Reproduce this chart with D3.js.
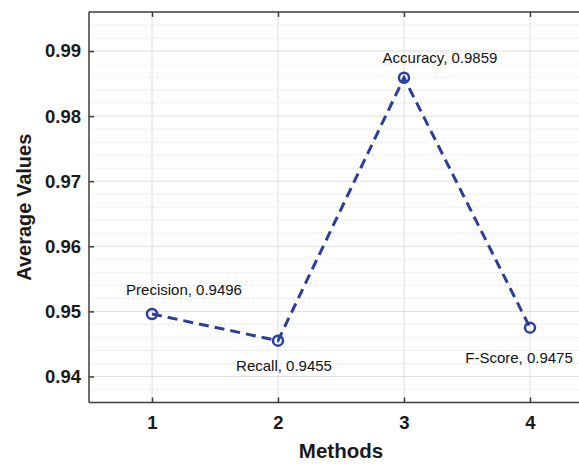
<!DOCTYPE html>
<html><head><meta charset="utf-8">
<script src="https://cdn.jsdelivr.net/npm/d3@7"></script>
<style>body{margin:0;background:#fff;} svg{display:block;font-family:Arial,"Liberation Sans",Helvetica,sans-serif;}</style>
</head><body>
<script>
const methods = [1, 2, 3, 4];
const names = ["Precision", "Recall", "Accuracy", "F-Score"];
const values = [0.9496, 0.9455, 0.9859, 0.9475];
const yTicks = [0.94, 0.95, 0.96, 0.97, 0.98, 0.99];
const xTicks = [1, 2, 3, 4];

(function () {
const W = 579, H = 464;
const mLeft = 89, mTop = 12, mBottom = 402.5;
const x = d3.scaleLinear().domain([0.5, 4.5]).range([mLeft, mLeft + 504]);
const y = d3.scaleLinear().domain([0.936, 0.996]).range([mBottom, mTop]);

const svg = d3.select("body").append("svg").attr("width", W).attr("height", H);
const g = svg.append("g");

// minor dotted grid
const minor = d3.range(0.936, 0.9961, 0.002).filter(v => Math.abs(Math.round(v*100)/100 - v) > 1e-6);
g.selectAll(".minor").data(minor).enter().append("line")
  .attr("x1", mLeft).attr("x2", x(4.5)).attr("y1", d => y(d)).attr("y2", d => y(d))
  .attr("stroke", "#cfcfcf").attr("stroke-width", 1).attr("stroke-dasharray", "1,3");
// major grid
g.selectAll(".gy").data(yTicks).enter().append("line")
  .attr("x1", mLeft).attr("x2", x(4.5)).attr("y1", d => y(d)).attr("y2", d => y(d))
  .attr("stroke", "#dedede").attr("stroke-width", 1);
g.selectAll(".gx").data(xTicks).enter().append("line")
  .attr("x1", d => x(d)).attr("x2", d => x(d)).attr("y1", mTop).attr("y2", mBottom)
  .attr("stroke", "#dedede").attr("stroke-width", 1);

// axes
const axC = "#3c3c3c";
const yAxis = g.append("g").attr("transform", `translate(${mLeft},0)`)
  .call(d3.axisLeft(y).tickValues(yTicks).tickSize(-5).tickPadding(8).tickFormat(d3.format(".2f")));
const xAxis = g.append("g").attr("transform", `translate(0,${mBottom})`)
  .call(d3.axisBottom(x).tickValues(xTicks).tickSize(-5).tickPadding(13).tickFormat(d3.format("d")));
const topAxis = g.append("g").attr("transform", `translate(0,${mTop})`)
  .call(d3.axisTop(x).tickValues(xTicks).tickSize(-5).tickFormat(""));
[yAxis, xAxis, topAxis].forEach(a => {
  a.select(".domain").attr("stroke", axC).attr("stroke-width", 1.5);
  a.selectAll(".tick line").attr("stroke", axC).attr("stroke-width", 1.5);
  a.selectAll("text").attr("font-size", 18.5).attr("font-weight", "bold").attr("fill", "#1a1a1a")
   .attr("font-family", "Arial, Liberation Sans, sans-serif");
});
yAxis.select(".domain").attr("d", `M0,${mTop}V${mBottom}`);
xAxis.select(".domain").attr("d", `M${mLeft},0H${x(4.5)}`);
topAxis.select(".domain").attr("d", `M${mLeft},0H${x(4.5)}`);

// line
const pts = methods.map((m, i) => ({m, v: values[i], n: names[i]}));
const blue = "#2a3f9c";
g.append("path").datum(pts)
  .attr("d", d3.line().x(d => x(d.m)).y(d => y(d.v)))
  .attr("fill", "none").attr("stroke", blue).attr("stroke-width", 3)
  .attr("stroke-dasharray", "10,6");
g.selectAll(".pt").data(pts).enter().append("circle")
  .attr("cx", d => x(d.m)).attr("cy", d => y(d.v)).attr("r", 5)
  .attr("fill", "none").attr("stroke", blue).attr("stroke-width", 2.5);

// labels
const off = [{dx: 32, dy: -19}, {dx: 6, dy: 30}, {dx: 36, dy: -15}, {dx: -11, dy: 35}];
g.selectAll(".lbl").data(pts).enter().append("text")
  .attr("x", (d, i) => x(d.m) + off[i].dx).attr("y", (d, i) => y(d.v) + off[i].dy)
  .attr("text-anchor", "middle").attr("font-size", 15).attr("fill", "#111")
  .text(d => `${d.n}, ${d.v.toFixed(4)}`);

// axis titles
svg.append("text").attr("x", x(2.5)).attr("y", 458).attr("text-anchor", "middle")
  .attr("font-size", 20.5).attr("font-weight", "bold").attr("fill", "#1a1a1a").text("Methods");
svg.append("text").attr("transform", `translate(31,${(mTop + mBottom) / 2}) rotate(-90)`)
  .attr("text-anchor", "middle").attr("font-size", 20).attr("font-weight", "bold")
  .attr("fill", "#1a1a1a").text("Average Values");
})();
</script>
</body></html>
